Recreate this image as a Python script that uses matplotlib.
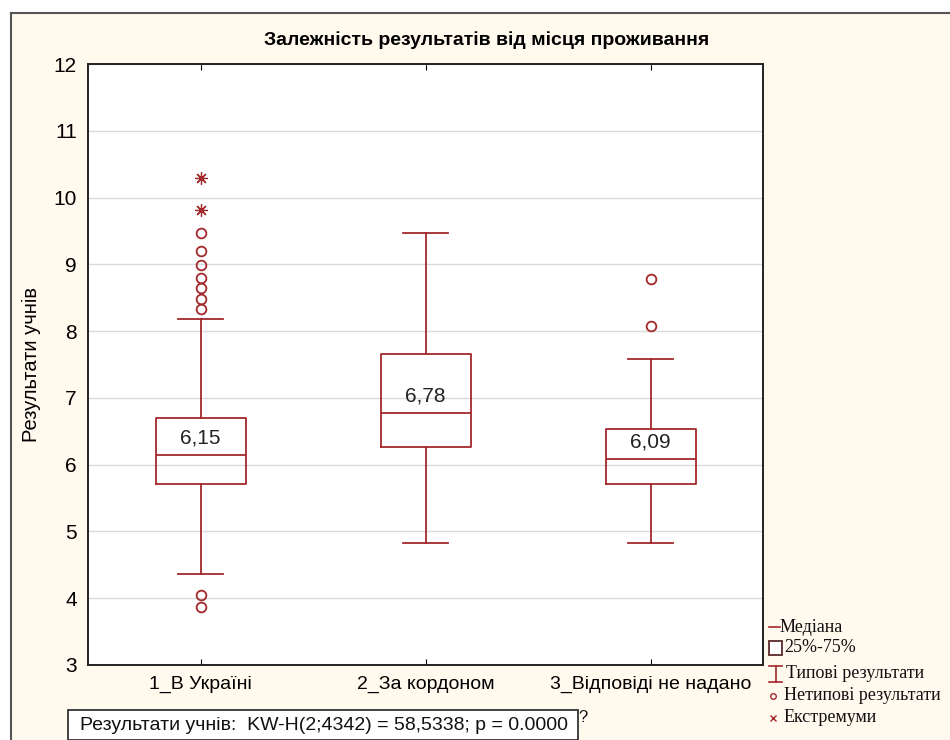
import numpy as np
import matplotlib.pyplot as plt
from matplotlib.lines import Line2D
from matplotlib.patches import Rectangle

# data
groups = ['1_В Україні', '2_За кордоном', '3_Відповіді не надано']
q1 = [5.71, 6.26, 5.71]
medians = [6.15, 6.78, 6.09]
q3 = [6.70, 7.66, 6.53]
whislo = [4.36, 4.83, 4.83]
whishi = [8.18, 9.47, 7.58]
outliers = [
    [9.47, 9.20, 8.99, 8.79, 8.64, 8.48, 8.33, 4.05, 3.87],
    [],
    [8.78, 8.08],
]
extremes = [[10.30, 9.81], [], []]
median_labels = ['6,15', '6,78', '6,09']
legend_labels = ['Медіана', '25%-75%', 'Типові результати', 'Нетипові результати', 'Екстремуми']
stat_text = 'Результати учнів:  KW-H(2;4342) = 58,5338; p = 0.0000'

RED = '#A3282C'
CREAM = '#FFF9EE'
sans = ['Liberation Sans', 'DejaVu Sans']
narrow = ['Liberation Sans Narrow', 'Liberation Sans', 'DejaVu Sans']
serif = ['Liberation Serif', 'DejaVu Serif']

fig = plt.figure(figsize=(9.5, 7.4), dpi=100)
fig.patch.set_facecolor('white')

# cream panel with dark top/left border
fig.add_artist(Rectangle((11 / 950, 0), 1, (740 - 13) / 740, transform=fig.transFigure,
                         facecolor=CREAM, edgecolor='none', zorder=0))
fig.add_artist(Line2D([11 / 950, 1], [727 / 740, 727 / 740], transform=fig.transFigure,
                      color='#555555', lw=1.5))
fig.add_artist(Line2D([11 / 950, 11 / 950], [0, 727 / 740], transform=fig.transFigure,
                      color='#555555', lw=1.5))

ax = fig.add_axes([88 / 950, 75 / 740, 675 / 950, 601 / 740])
ax.set_facecolor('white')

stats = []
for i in range(len(groups)):
    stats.append(dict(med=medians[i], q1=q1[i], q3=q3[i], whislo=whislo[i],
                      whishi=whishi[i], fliers=outliers[i], label=groups[i]))

pos = np.arange(1, len(groups) + 1)
ax.bxp(stats, positions=pos, widths=0.4, capwidths=0.2,
       boxprops=dict(color=RED, lw=1.3),
       whiskerprops=dict(color=RED, lw=1.3),
       capprops=dict(color=RED, lw=1.3),
       medianprops=dict(color=RED, lw=1.3),
       flierprops=dict(marker='o', markerfacecolor='none', markeredgecolor=RED,
                       markersize=7, markeredgewidth=1.3))

for i in range(len(groups)):
    if extremes[i]:
        ax.plot([pos[i]] * len(extremes[i]), extremes[i], linestyle='none',
                marker=(8, 2, 0), markersize=9, color=RED, markeredgewidth=0.9)
    ax.annotate(median_labels[i], (pos[i], medians[i]), xytext=(0, 5),
                textcoords='offset points', ha='center', va='bottom',
                fontsize=15, family=sans, color='#222222')

ax.set_xlim(0.5, 3.5)
ax.set_ylim(3, 12)
ax.set_yticks(range(3, 13))
ax.yaxis.grid(True, color='#DADADA', lw=1)
ax.set_axisbelow(True)
ax.tick_params(axis='y', length=0, pad=8, labelsize=15)
ax.tick_params(axis='x', direction='in', length=4, top=True, pad=8, labelsize=14)
for lab in ax.get_xticklabels() + ax.get_yticklabels():
    lab.set_family(sans)
for s in ax.spines.values():
    s.set_color('#222222')
    s.set_linewidth(1.4)

ax.set_ylabel('Результати учнів', fontsize=14.5, family=sans)
ax.yaxis.set_label_coords(-0.07, 0.5)

fig.text(487 / 950, 700 / 740, 'Залежність результатів від місця проживання',
         ha='center', va='center', fontsize=14, fontweight='bold', family=narrow)

# legend drawn by hand
def fy(y):
    return (740 - y) / 740

def fx(x):
    return x / 950

tf = fig.transFigure
ly = [627, 648, 673, 696, 718]
fig.add_artist(Line2D([fx(769), fx(780)], [fy(ly[0]), fy(ly[0])], transform=tf, color=RED, lw=1.2))
fig.add_artist(Rectangle((fx(769), fy(655)), 13 / 950, 14 / 740, transform=tf,
                         facecolor='white', edgecolor='#5A2A2A', lw=1.3))
fig.add_artist(Line2D([fx(775.5), fx(775.5)], [fy(666), fy(682)], transform=tf, color=RED, lw=1.2))
fig.add_artist(Line2D([fx(769), fx(782)], [fy(666), fy(666)], transform=tf, color=RED, lw=1.2))
fig.add_artist(Line2D([fx(769), fx(782)], [fy(682), fy(682)], transform=tf, color=RED, lw=1.2))
fig.add_artist(Line2D([fx(773)], [fy(ly[3])], transform=tf, marker='o', markersize=4,
                      markerfacecolor='none', markeredgecolor=RED, markeredgewidth=1))
fig.add_artist(Line2D([fx(773)], [fy(ly[4])], transform=tf, marker='x', markersize=4,
                      color=RED, markeredgewidth=1))
lx = [780, 784, 786, 784, 784]
for x, y, t in zip(lx, ly, legend_labels):
    fig.text(fx(x), fy(y), t, ha='left', va='center', fontsize=13, family=serif, color='#111111')

# statistics box at the bottom
fig.text(fx(80), fy(725), stat_text, ha='left', va='center', fontsize=14, family=sans,
         color='#111111')
fig.add_artist(Rectangle((fx(68), 0), 510 / 950, 30 / 740, transform=tf,
                         facecolor='white', edgecolor='#333333', lw=1.3, zorder=1))
fig.text(fx(578), fy(718), '?', ha='left', va='center', fontsize=12, family=sans, color='#111111')

fig.savefig('out.png', dpi=100, facecolor=fig.get_facecolor())
